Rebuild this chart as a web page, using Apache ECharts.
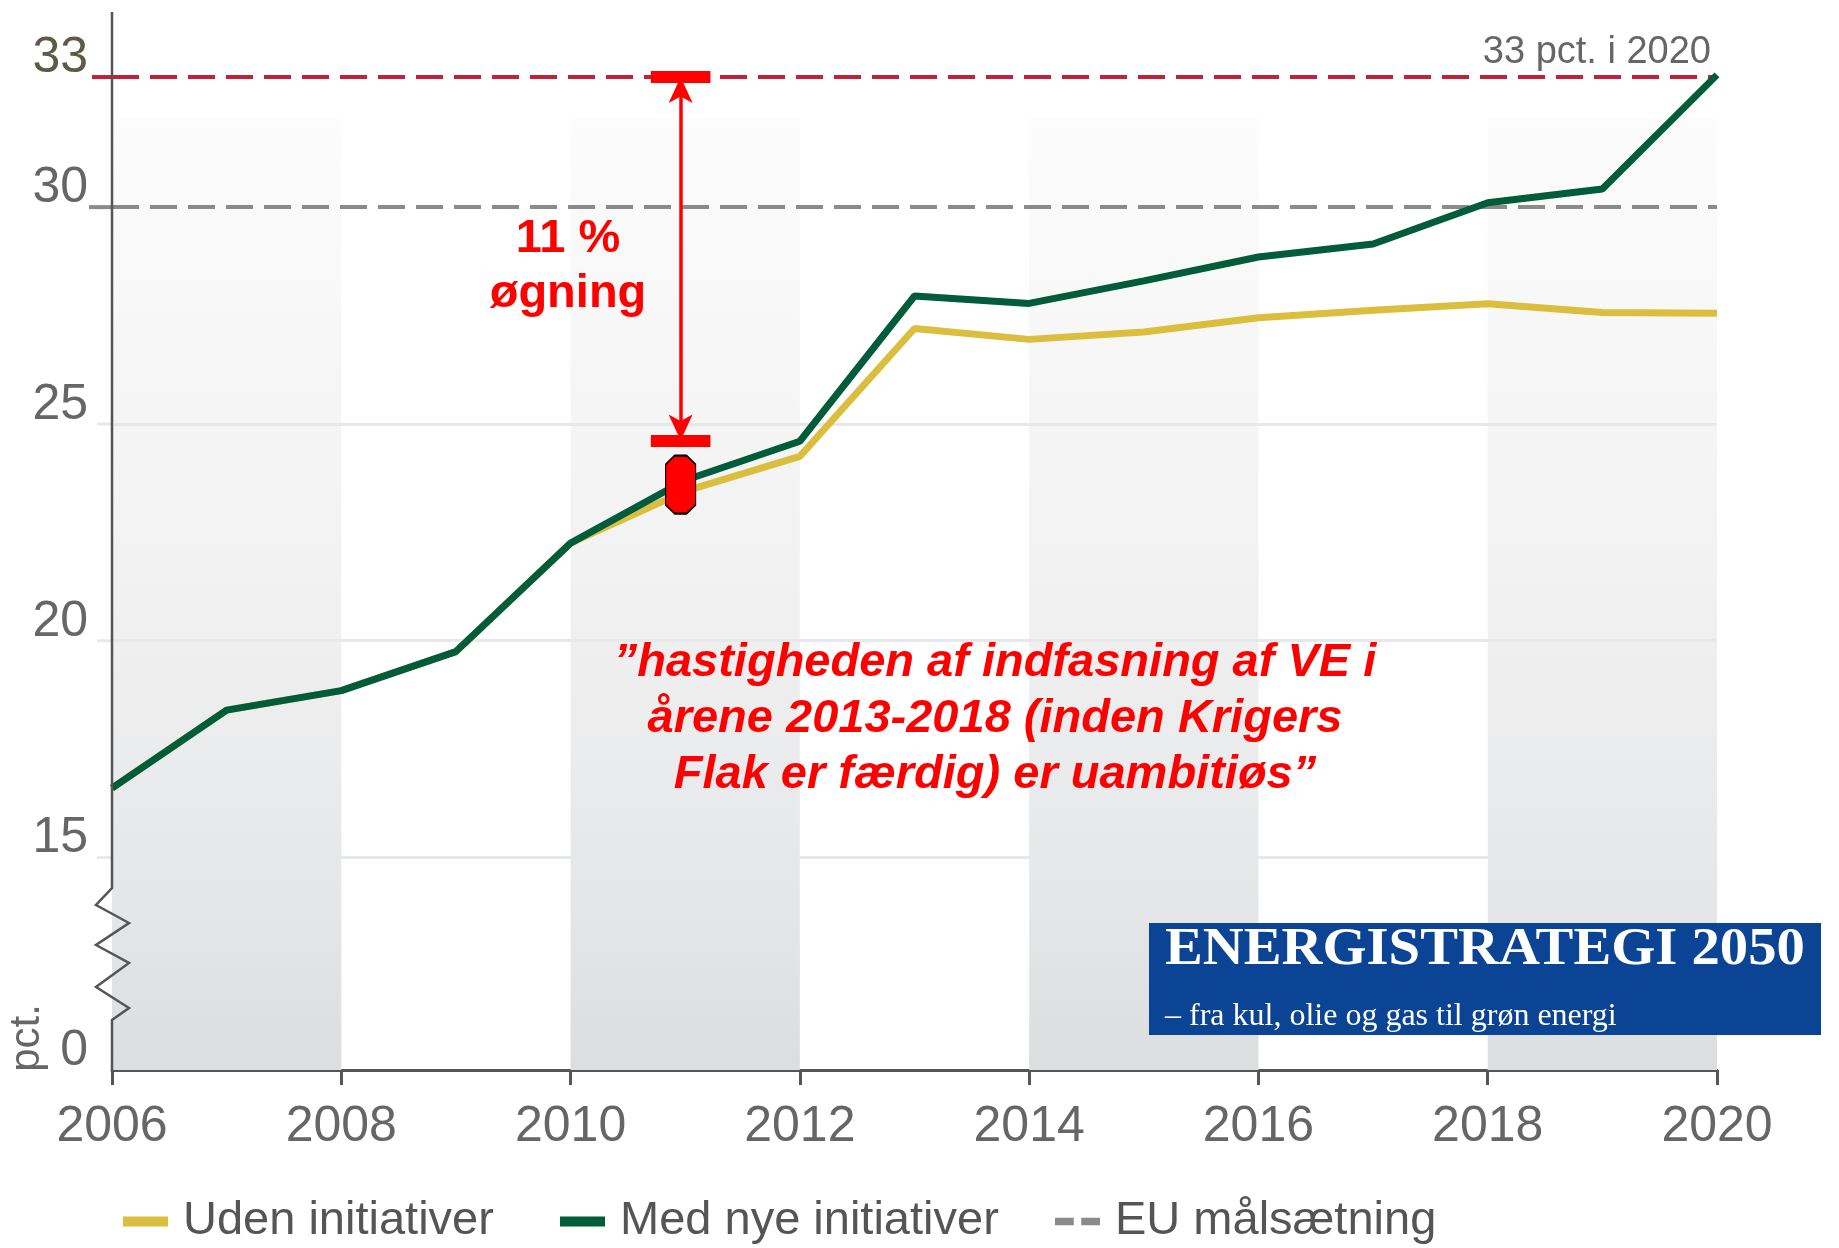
<!DOCTYPE html>
<html><head><meta charset="utf-8">
<script src="https://cdn.jsdelivr.net/npm/echarts@6/dist/echarts.min.js"></script>
<style>html,body{margin:0;padding:0;background:#fff;}#c{width:1839px;height:1248px;}</style>
</head><body><div id="c"></div>
<script>
// ---- data ----
const years = [2006,2007,2008,2009,2010,2011,2012,2013,2014,2015,2016,2017,2018,2019,2020];
const udenInitiativer = [16.6,18.4,18.85,19.75,22.25,23.45,24.25,27.2,26.95,27.12,27.45,27.62,27.77,27.57,27.55];
const medNyeInitiativer = [16.6,18.4,18.85,19.75,22.25,23.7,24.6,27.95,27.78,28.3,28.85,29.15,30.1,30.42,33.05];
const euMaalsaetning = 30;
const maal2020 = 33;
const yTickValues = [10.1, 15, 20, 25, 30, 33];
const yTickLabels = ['0', '15', '20', '25', '30', '33'];
const gridValues = [15, 20, 25];
const bandStarts = [2006, 2010, 2014, 2018];
const arrowYear = 2010.96, arrowTop = 33, arrowBottom = 24.62, markerValue = 23.6;
const seriesNames = ['Uden initiativer', 'Med nye initiativer', 'EU målsætning'];
const goalLabel = '33 pct. i 2020';

const SANS = "'Liberation Sans Narrow','Liberation Sans',Arial,sans-serif";
const chart = echarts.init(document.getElementById('c'), null, {renderer:'canvas'});
const yMin = 10.1, yMax = 34.5, bandTop = 32.05;

const legendPos = [118, 555, 1050];
const legendIcons = ['rect', 'rect', 'path://M0,0H10V4H0Z M14,0H24V4H14Z'];

const option = {
  animation: false,
  backgroundColor: '#ffffff',
  grid: {left: 112, right: 122, top: 12, bottom: 178},
  xAxis: {
    type: 'value', min: 2006, max: 2020, interval: 2,
    axisLine: {lineStyle: {color: '#555', width: 3}},
    axisTick: {length: 15, lineStyle: {color: '#555', width: 3}},
    axisLabel: {fontFamily: SANS, fontSize: 50, color: '#666', margin: 32, formatter: v => String(v)},
    splitLine: {show: false}
  },
  yAxis: {
    type: 'value', min: yMin, max: yMax,
    axisLine: {show: false}, axisTick: {show: false}, splitLine: {show: false},
    axisLabel: {
      customValues: yTickValues,
      fontFamily: SANS, fontSize: 50, margin: 24, verticalAlign: 'bottom', lineHeight: 38,
      color: v => (Math.abs(v - 33) < 0.01 ? '#5e5a45' : '#666'),
      formatter: v => {
        let best = 0;
        yTickValues.forEach((t, i) => { if (Math.abs(t - v) < Math.abs(yTickValues[best] - v)) best = i; });
        return yTickLabels[best];
      }
    }
  },
  legend: seriesNames.map((n, i) => ({
    top: 1193, left: legendPos[i], itemWidth: 45, itemHeight: 10,
    itemStyle: {borderWidth: 0},
    textStyle: {fontFamily: SANS, fontSize: 47, color: '#555', padding: [0, 0, 0, 10]},
    data: [{name: n, icon: legendIcons[i]}]
  })),
  series: [
    {
      name: 'bg', type: 'line', data: [], z: 1, silent: true,
      markArea: {
        silent: true, z: 1,
        itemStyle: {color: {type: 'linear', x: 0, y: 0, x2: 0, y2: 1, colorStops: [
          {offset: 0, color: '#fcfcfc'}, {offset: 0.5, color: '#f1f1f2'}, {offset: 0.8, color: '#e6e7e8'}, {offset: 1, color: '#dcdddf'}]}},
        data: bandStarts.map(s => [{xAxis: s, yAxis: yMin}, {xAxis: s + 2, yAxis: bandTop}])
      },
      markLine: {
        silent: true, z: 1, symbol: 'none', label: {show: false},
        lineStyle: {color: '#e7e8e9', width: 3, type: 'solid'},
        data: gridValues.map(v => ({yAxis: v}))
      }
    },
    {
      name: seriesNames[2], type: 'line', z: 2, symbol: 'none', color: '#8a8a8a',
      data: [[2006, euMaalsaetning], [2020, euMaalsaetning]],
      lineStyle: {color: '#8a8a8a', width: 4, type: [27, 11]},
      markLine: {
        silent: true, z: 2, symbol: 'none',
        lineStyle: {color: '#c4203a', width: 4, type: [27, 11]},
        label: {show: true, position: 'insideEndTop', formatter: goalLabel, fontFamily: SANS, fontSize: 38, color: '#666', distance: 6},
        data: [{yAxis: maal2020}]
      }
    },
    {
      name: seriesNames[0], type: 'line', z: 3, symbol: 'none', color: '#dcbe3e',
      data: years.map((y, i) => [y, udenInitiativer[i]]),
      lineStyle: {color: '#dcbe3e', width: 7}
    },
    {
      name: seriesNames[1], type: 'line', z: 4, symbol: 'none', color: '#005c3a',
      data: years.map((y, i) => [y, medNyeInitiativer[i]]),
      lineStyle: {color: '#005c3a', width: 7}
    },
    {
      name: 'annot', type: 'line', data: [], z: 6, silent: true,
      markLine: {
        silent: true, z: 6, label: {show: false},
        lineStyle: {color: '#ff0000', width: 3.5, type: 'solid'},
        data: [
          [{coord: [arrowYear, arrowTop], symbol: 'arrow', symbolSize: [18, 26]}, {coord: [arrowYear, arrowBottom], symbol: 'arrow', symbolSize: [18, 26]}],
          [{coord: [arrowYear - 0.26, arrowTop], symbol: 'none', lineStyle: {width: 12, color: '#ff0000', type: 'solid'}}, {coord: [arrowYear + 0.26, arrowTop], symbol: 'none'}],
          [{coord: [arrowYear - 0.26, arrowBottom], symbol: 'none', lineStyle: {width: 12, color: '#ff0000', type: 'solid'}}, {coord: [arrowYear + 0.26, arrowBottom], symbol: 'none'}]
        ]
      },
      markPoint: {
        silent: true, z: 7,
        symbol: 'path://M3,0L7,0L10,3L10,17L7,20L3,20L0,17L0,3Z', symbolSize: [30, 58], symbolKeepAspect: false,
        itemStyle: {color: '#ff0000', borderColor: '#000', borderWidth: 1.5},
        label: {show: false},
        data: [{coord: [arrowYear, markerValue]}]
      }
    }
  ]
};
chart.setOption(option);

// decorations computed from the axes
const toPx = (x, y) => chart.convertToPixel({gridIndex: 0}, [x, y]);
const axTop = toPx(2006, yMax), axBot = toPx(2006, yMin);
const ax = axTop[0], B = axBot[1];
const zz = [[0,-182],[-16,-165],[17,-147],[-16,-125],[17,-107],[-16,-83],[17,-62],[0,-50],[0,0]];
const axisPts = [[ax, axTop[1]]].concat(zz.map(p => [ax + p[0], B + p[1]]));
const graphics = [
  {type: 'polyline', z: 10, shape: {points: axisPts}, style: {stroke: '#555', lineWidth: 2.5, fill: null}},
  {type: 'line', z: 9, shape: {x1: ax - 20, y1: toPx(2006, maal2020)[1], x2: ax, y2: toPx(2006, maal2020)[1]}, style: {stroke: '#c4203a', lineWidth: 4}},
  {type: 'line', z: 9, shape: {x1: ax - 23, y1: toPx(2006, euMaalsaetning)[1], x2: ax, y2: toPx(2006, euMaalsaetning)[1]}, style: {stroke: '#8a8a8a', lineWidth: 4}}
].concat(gridValues.map(v => ({type: 'line', z: 9, shape: {x1: ax - 15, y1: toPx(2006, v)[1], x2: ax, y2: toPx(2006, v)[1]}, style: {stroke: '#e7e8e9', lineWidth: 3}})));

const F_BOLD = "bold 47px 'Liberation Sans',Arial,sans-serif";
const F_IT = "italic bold 47px 'Liberation Sans',Arial,sans-serif";
graphics.push(
  {type: 'text', z: 20, x: 27, y: 1038, rotation: Math.PI / 2, style: {text: 'pct.', font: "42px " + SANS, fill: '#666', align: 'center', verticalAlign: 'middle'}},
  {type: 'text', z: 20, x: 568, y: 239, style: {text: '11 %', font: F_BOLD, fill: '#ff0000', align: 'center', verticalAlign: 'middle'}},
  {type: 'text', z: 20, x: 568, y: 294, style: {text: 'øgning', font: F_BOLD, fill: '#ff0000', align: 'center', verticalAlign: 'middle'}},
  {type: 'text', z: 20, x: 995, y: 663, style: {text: '”hastigheden af indfasning af VE i', font: F_IT, fill: '#ff0000', align: 'center', verticalAlign: 'middle'}},
  {type: 'text', z: 20, x: 995, y: 719, style: {text: 'årene 2013-2018 (inden Krigers', font: F_IT, fill: '#ff0000', align: 'center', verticalAlign: 'middle'}},
  {type: 'text', z: 20, x: 995, y: 775, style: {text: 'Flak er færdig) er uambitiøs”', font: F_IT, fill: '#ff0000', align: 'center', verticalAlign: 'middle'}},
  {type: 'rect', z: 30, shape: {x: 1149, y: 923, width: 672, height: 112}, style: {fill: '#0b4494'}},
  {type: 'text', z: 31, x: 1165, y: 951, scaleX: 1.09, style: {text: 'ENERGISTRATEGI 2050', font: "bold 52px 'Liberation Serif','DejaVu Serif',serif", fill: '#ffffff', align: 'left', verticalAlign: 'middle'}},
  {type: 'text', z: 31, x: 1165, y: 1017, style: {text: '– fra kul, olie og gas til grøn energi', font: "32px 'Liberation Serif','DejaVu Serif',serif", fill: '#ffffff', align: 'left', verticalAlign: 'middle'}}
);
chart.setOption({graphic: graphics});
</script></body></html>
